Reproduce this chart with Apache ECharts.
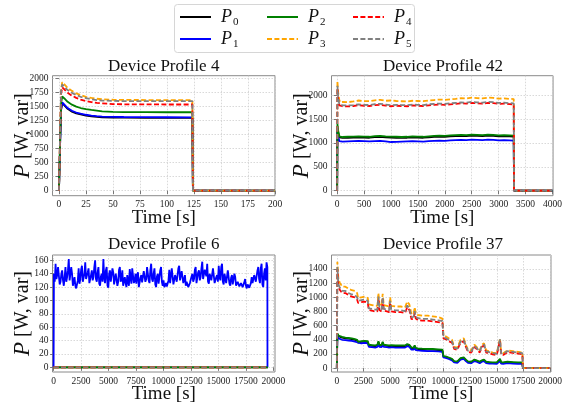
<!DOCTYPE html>
<html><head><meta charset="utf-8">
<script src="https://cdn.jsdelivr.net/npm/echarts@6/dist/echarts.min.js"></script>
<style>html,body{margin:0;padding:0;background:#fff}#c{width:565px;height:407px}</style>
</head><body><div id="c"></div>
<script>
// ---------- legend / series names ----------
const seriesNames = ['P0','P1','P2','P3','P4','P5'];
const titles = ['Device Profile 4','Device Profile 42','Device Profile 6','Device Profile 37'];

// ---------- Device Profile 4 ----------
const dp4Time = [0,1,2,3,5,8,12,16,20,25,30,35,40,50,60,80,100,123.5,124,150,200];
const dp4P0 = [0,790,1440,1555,1515,1455,1405,1375,1355,1337,1322,1312,1305,1300,1298,1296,1294,1293,0,0,0];
const dp4P1 = [0,800,1450,1570,1530,1470,1420,1390,1370,1350,1335,1325,1318,1312,1310,1308,1306,1305,0,0,0];
const dp4P2 = [0,860,1560,1675,1640,1580,1530,1495,1470,1450,1437,1425,1412,1402,1398,1396,1395,1395,0,0,0];
const dp4P3 = [0,1000,1800,1930,1890,1830,1775,1730,1700,1670,1650,1635,1625,1617,1614,1612,1612,1612,0,0,0];
const dp4P4 = [0,950,1720,1840,1800,1740,1690,1650,1620,1595,1575,1562,1552,1540,1536,1534,1533,1533,0,0,0];
const dp4P5 = [0,980,1780,1890,1850,1790,1740,1700,1670,1645,1625,1612,1603,1596,1594,1592,1592,1592,0,0,0];

// ---------- Device Profile 42 ----------
const dp42Time = [0,5,20,40,60,100,200,300,400,500,600,700,800,900,1000,1100,1200,1300,1400,1500,1600,1700,1800,1900,2000,2100,2200,2300,2400,2500,2600,2700,2800,2900,3000,3100,3200,3280,3285,4000];
const dp42P0 = [0,1350,1220,1120,1100,1105,1110,1115,1120,1115,1110,1125,1130,1120,1115,1110,1105,1110,1120,1115,1110,1120,1130,1135,1130,1140,1145,1150,1145,1155,1150,1145,1155,1150,1140,1145,1140,1135,0,0];
const dp42P1 = [0,1300,1150,1040,1025,1030,1035,1040,1045,1040,1035,1040,1045,1035,1020,1025,1030,1035,1040,1035,1030,1040,1045,1050,1045,1055,1060,1065,1060,1070,1065,1060,1070,1065,1055,1060,1055,1050,0,0];
const dp42P2 = [0,1400,1250,1140,1120,1125,1130,1135,1140,1135,1130,1145,1150,1140,1135,1130,1125,1130,1140,1135,1130,1140,1150,1155,1150,1160,1165,1170,1165,1175,1170,1165,1175,1170,1160,1165,1160,1155,0,0];
const dp42P3 = [0,2300,2050,1900,1850,1860,1855,1870,1890,1880,1875,1895,1905,1885,1890,1880,1875,1870,1885,1880,1875,1890,1900,1910,1905,1915,1925,1940,1930,1950,1940,1935,1950,1945,1930,1935,1925,1920,0,0];
const dp42P4 = [0,2150,1900,1790,1760,1770,1765,1775,1790,1780,1775,1795,1800,1785,1770,1780,1775,1770,1785,1780,1775,1790,1800,1805,1800,1810,1820,1830,1825,1840,1830,1825,1840,1835,1820,1825,1815,1810,0,0];
const dp42P5 = [0,2200,1950,1810,1780,1790,1785,1795,1810,1800,1795,1815,1820,1805,1790,1800,1795,1790,1805,1800,1795,1810,1820,1825,1820,1830,1840,1850,1845,1860,1850,1845,1860,1855,1840,1845,1835,1830,0,0];

// ---------- Device Profile 6 ----------
const dp6Start = 30, dp6Step = 75;   // sampling of the P1 trace
const dp6P1 = [
 140,128,155,132,138,150,150,124,128,140,145,130,122,135,150,128,135,145,162,130,
 128,150,140,122,120,135,122,118,119,130,148,125,132,146,152,128,126,140,157,132,
 130,142,148,126,124,138,145,130,135,150,160,132,128,142,150,125,122,136,140,128,
 162,135,126,145,150,122,119,140,145,128,130,148,142,124,125,140,138,122,128,146,
 150,128,132,145,122,120,135,126,120,138,128,122,147,135,125,148,150,126,130,140,
 125,138,142,120,120,134,138,127,128,144,145,128,132,150,152,130,126,145,155,132,
 128,140,148,124,120,136,140,125,125,145,150,128,122,130,120,122,126,121,119,130,
 146,126,128,148,150,124,122,138,140,128,126,148,152,130,130,144,145,126,124,138,
 122,128,130,120,119,126,128,136,140,128,132,146,150,126,128,142,145,130,135,148,
 158,132,130,146,148,136,155,128,125,140,140,130,132,148,150,126,126,135,138,128,
 152,135,130,150,155,128,124,140,142,126,128,145,145,125,122,134,138,124,126,140,
 135,122,120,128,130,121,122,126,128,120,119,127,132,122,118,124,125,119,120,126,
 135,126,128,138,140,128,130,145,150,132,126,148,155,124,120,140,148,130,157,150];
const dp6EndTime = [19465];
const dp6EndP1 = [0];
const dp6ZeroTime = [0,19500];
const dp6Zero = [0,0];

// ---------- Device Profile 37 ----------
const dp37Time = [0,50,150,300,500,800,1100,1400,1700,1900,2000,2300,2600,2900,3000,3300,3600,3800,3900,4000,4200,4300,4400,4700,4900,5000,5100,5500,6000,6400,6600,6800,7000,7200,7300,7400,7600,8000,8500,9000,9500,9900,10000,10200,10500,10800,11000,11300,11600,11900,12100,12300,12600,12900,13100,13400,13600,13800,14000,14300,14600,15000,15300,15400,15600,16000,16500,17000,17400,17450,20000];
const dp37P0 = [0,480,450,440,430,420,415,410,400,390,360,370,375,370,320,315,310,320,370,320,315,360,320,315,310,320,315,310,310,310,330,320,280,280,310,275,270,265,260,260,255,250,160,155,140,120,92,88,132,140,112,88,83,112,102,83,102,112,83,78,74,74,120,78,74,83,78,74,74,0,0];
const dp37P1 = [0,450,420,410,400,395,390,385,375,365,340,350,355,350,300,295,290,300,340,300,295,335,300,295,290,300,295,290,290,290,310,300,260,260,290,255,250,245,240,240,235,230,150,145,130,110,80,75,120,130,100,75,70,100,90,70,90,100,70,65,62,60,100,65,60,70,65,60,60,0,0];
const dp37P2 = [0,490,460,450,440,430,425,420,410,400,370,380,385,380,330,325,320,330,380,330,325,370,330,325,320,330,325,320,320,320,340,330,290,290,320,285,280,275,270,270,265,260,170,165,150,130,100,95,140,150,120,95,90,120,110,90,110,120,90,85,80,80,130,85,80,90,85,80,80,0,0];
const dp37P3 = [0,1500,1250,1200,1150,1150,1120,1100,1090,1060,990,1000,1010,990,900,890,880,880,1060,900,880,1050,890,880,870,1000,880,870,870,860,940,900,760,770,860,770,750,740,740,730,720,700,460,450,420,400,300,290,400,420,330,260,250,330,300,250,330,350,250,240,220,210,420,220,210,250,240,230,220,0,0];
const dp37P4 = [0,1400,1150,1100,1060,1060,1030,1010,1000,970,920,930,940,920,820,810,800,800,980,820,800,970,810,800,790,920,800,790,790,780,860,820,690,700,780,700,680,670,670,660,650,640,420,410,380,360,270,260,360,380,300,230,220,300,270,220,300,320,220,210,195,185,390,195,185,225,215,205,195,0,0];
const dp37P5 = [0,1430,1180,1130,1090,1090,1060,1040,1030,1000,950,960,970,950,845,835,825,825,1010,845,825,1000,835,825,815,950,825,815,815,805,885,845,715,725,805,725,705,695,695,685,675,665,435,425,395,375,285,275,375,395,315,245,235,315,285,235,315,335,235,225,210,200,405,210,200,240,230,220,210,0,0];

// ---------- tick values ----------
const xTicks = [
  [0,25,50,75,100,125,150,175,200],
  [0,500,1000,1500,2000,2500,3000,3500,4000],
  [0,2500,5000,7500,10000,12500,15000,17500,20000],
  [0,2500,5000,7500,10000,12500,15000,17500,20000]];
const yTicks = [
  [0,250,500,750,1000,1250,1500,1750,2000],
  [0,500,1000,1500,2000],
  [0,20,40,60,80,100,120,140,160],
  [0,200,400,600,800,1000,1200,1400]];

// ---------- presentation ----------
const colors = ['#000000','#0000ff','#008000','#ffa500','#ff0000','#808080'];
const dashed = [false,false,false,true,true,true];
const xRange = [[-6,200],[-105,4010],[-100,20150],[-500,20080]];
const yRange = [[-90,2045],[-105,2410],[-7,168],[-55,1597]];
const grids = [
  {left:52.5, top:75.7, width:222.5, height:120},
  {left:331.5, top:75.7, width:222.8, height:120},
  {left:52.5, top:255, width:222.5, height:117},
  {left:331.5, top:255, width:222.8, height:117}];

function pairs(t, v){ return t.map((x,i)=>[x, v[i]]); }
const dp6Times = dp6P1.map((_,i)=>dp6Start + i*dp6Step);

const panelData = [
  [dp4P0,dp4P1,dp4P2,dp4P3,dp4P4,dp4P5].map(v=>pairs(dp4Time,v)),
  [dp42P0,dp42P1,dp42P2,dp42P3,dp42P4,dp42P5].map(v=>pairs(dp42Time,v)),
  [pairs(dp6ZeroTime,dp6Zero),
   [[0,0]].concat(pairs(dp6Times,dp6P1), pairs(dp6EndTime,dp6EndP1)),
   pairs(dp6ZeroTime,dp6Zero), pairs(dp6ZeroTime,dp6Zero), pairs(dp6ZeroTime,dp6Zero), pairs(dp6ZeroTime,dp6Zero)],
  [dp37P0,dp37P1,dp37P2,dp37P3,dp37P4,dp37P5].map(v=>pairs(dp37Time,v))
];

const FONT = 'Liberation Serif';
const tickColor = '#777';
const series = [];
panelData.forEach((arr,p)=>{
  arr.forEach((d,k)=>{
    series.push({
      type:'line', name:seriesNames[k], xAxisIndex:p, yAxisIndex:p, data:d,
      symbol:'none', silent:true, animation:false,
      lineStyle:{color:colors[k], width:1.8, type: dashed[k] ? [5,2.4] : 'solid'},
      itemStyle:{color:colors[k]}
    });
  });
});

const xAxis = grids.map((g,p)=>({
  type:'value', gridIndex:p, min:xRange[p][0], max:xRange[p][1],
  axisLine:{show:false},
  axisTick:{show:true, length:3.5, customValues:xTicks[p], lineStyle:{color:tickColor}},
  axisLabel:{customValues:xTicks[p], formatter:v=>String(v), fontFamily:FONT, fontSize:9.5, color:'#222', margin:4},
  splitLine:{show:true, lineStyle:{color:'#cfcfcf', width:0.8, type:[1.5,1.5]}},
  name:'Time [s]', nameLocation:'middle', nameGap:13, nameMoveOverlap:false,
  nameTextStyle:{fontFamily:FONT, fontSize:19, color:'#111', verticalAlign:'top'}
}));
const yAxis = grids.map((g,p)=>({
  type:'value', gridIndex:p, min:yRange[p][0], max:yRange[p][1],
  axisLine:{show:false},
  axisTick:{show:true, length:3.5, customValues:yTicks[p], lineStyle:{color:tickColor}},
  axisLabel:{customValues:yTicks[p], formatter:v=>String(v), fontFamily:FONT, fontSize:9.5, color:'#222', margin:4},
  splitLine:{show:true, lineStyle:{color:'#cfcfcf', width:0.8, type:[1.5,1.5]}},
  name:'{i|P} [W, var]', nameLocation:'middle', nameGap:18, nameMoveOverlap:false,
  nameTextStyle:{fontFamily:FONT, fontSize:20, color:'#111',
    rich:{i:{fontFamily:FONT, fontStyle:'italic', fontSize:23, color:'#111'}}}
}));

const legendLeft = [179, 266, 352];
const legend = [0,1,2].map(i=>({
  data:[seriesNames[2*i], seriesNames[2*i+1]],
  orient:'vertical', left:legendLeft[i], top:6, itemWidth:31, itemHeight:2, itemGap:0,
  selectedMode:false, padding:0,
  itemStyle:{opacity:0},
  formatter: n => '{p|P}{s|' + n.slice(1) + '}',
  textStyle:{color:'#111', lineHeight:22,
    rich:{p:{fontFamily:FONT, fontStyle:'italic', fontSize:18, color:'#111', padding:[0,0,0,5], lineHeight:22},
          s:{fontFamily:FONT, fontSize:11, color:'#111', verticalAlign:'bottom', lineHeight:11, padding:[0,0,0,1]}}}
}));

const titleCenters = [[163.7,67],[443,67],[163.7,245],[443,245]];
const graphic = [{type:'rect', z:-10, shape:{x:174.5, y:4.5, width:240, height:48, r:3},
  style:{fill:'#fff', stroke:'#d6d6d6', lineWidth:1}}]
 .concat(titles.map((t,i)=>({type:'text', x:titleCenters[i][0], y:titleCenters[i][1],
   style:{text:t, font:'17px "Liberation Serif"', fill:'#111', textAlign:'center', textVerticalAlign:'middle'}})));

const chart = echarts.init(document.getElementById('c'), null, {renderer:'canvas'});
chart.setOption({
  animation:false, backgroundColor:'#fff',
  grid: grids.map(g=>Object.assign({show:true, borderColor:'#8a8a8a', borderWidth:1, backgroundColor:'transparent'}, g)),
  xAxis, yAxis, legend, graphic, series
});
</script></body></html>
